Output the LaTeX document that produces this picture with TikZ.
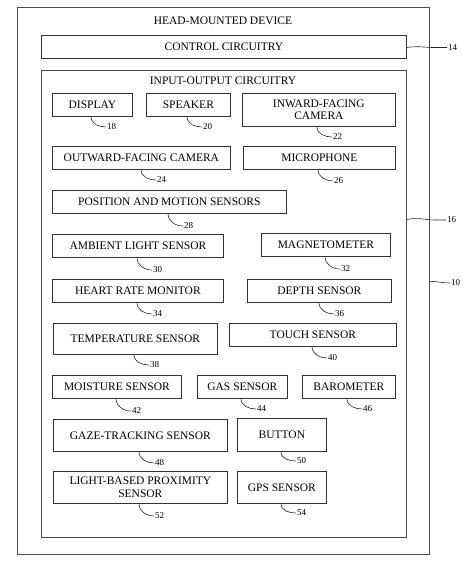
\documentclass[tikz,border=0pt]{standalone}
\usepackage{fontspec}
\setmainfont{Liberation Serif}
\tikzset{
  box/.style={draw=black!80, line width=0.75pt, inner sep=0pt, align=center,
    font=\fontsize{11.5}{12.5}\selectfont, anchor=north west},
  frame/.style={draw=black!70, line width=0.75pt, inner sep=0pt, anchor=north west},
  ttl/.style={font=\fontsize{11.5}{12.5}\selectfont, inner sep=0pt},
  num/.style={font=\fontsize{9}{9}\selectfont, inner sep=1pt, anchor=west},
  lead/.style={draw=black!85, line width=0.6pt}
}
\newcommand\mybox[6]{\node[box, minimum width={(#4-#2)*1pt}, minimum height={(#5-#3)*1pt}] (#1) at (#2,#3) {#6};}
\newcommand\myframe[5]{\node[frame, minimum width={(#4-#2)*1pt}, minimum height={(#5-#3)*1pt}] (#1) at (#2,#3) {};}
\newcommand\mylead[4]{\node[num] (l#4) at (#2,#3) {#4};
  \draw[lead] ([xshift=-15pt]l#4.west |- #1.south) to[out=-90,in=180] (l#4.west);}
\begin{document}
\begin{tikzpicture}[x=1pt,y=-1pt]
\useasboundingbox (0,0) rectangle (474,570);
\myframe{outer}{17}{7}{429}{554}
\node[ttl] (t10) at (223,21) {HEAD-MOUNTED DEVICE};
\mybox{ctrl}{41}{35}{406}{58}{CONTROL CIRCUITRY}
\myframe{io}{41}{70}{406}{537}
\node[ttl] (t16) at (223,81) {INPUT-OUTPUT CIRCUITRY};

\mybox{disp}{52}{93}{132}{116}{DISPLAY}
\mybox{spk}{146}{93}{230}{116}{SPEAKER}
\mybox{inw}{242}{93}{395}{126}{INWARD-FACING\\CAMERA}
\mybox{outw}{52}{146}{230}{169}{OUTWARD-FACING CAMERA}
\mybox{mic}{243}{146}{395}{169}{MICROPHONE}
\mybox{pos}{52}{190}{286}{213}{POSITION AND MOTION SENSORS}
\mybox{amb}{52}{234}{223}{257}{AMBIENT LIGHT SENSOR}
\mybox{mag}{261}{233}{390}{256}{MAGNETOMETER}
\mybox{hrm}{52}{279}{223}{302}{HEART RATE MONITOR}
\mybox{dep}{247}{279}{391}{302}{DEPTH SENSOR}
\mybox{tmp}{53}{323}{217}{354}{TEMPERATURE SENSOR}
\mybox{tch}{229}{323}{396}{346}{TOUCH SENSOR}
\mybox{moi}{52}{375}{181}{398}{MOISTURE SENSOR}
\mybox{gas}{197}{375}{287}{398}{GAS SENSOR}
\mybox{bar}{302}{375}{395}{398}{BAROMETER}
\mybox{gaze}{53}{419}{227}{451}{GAZE-TRACKING SENSOR}
\mybox{btn}{237}{418}{326}{451}{BUTTON}
\mybox{prox}{53}{471}{227}{503}{LIGHT-BASED PROXIMITY\\SENSOR}
\mybox{gps}{237}{471}{326}{503}{GPS SENSOR}

\mylead{disp}{106}{127}{18}
\mylead{spk}{202}{127}{20}
\mylead{inw}{332}{137}{22}
\mylead{outw}{156}{180}{24}
\mylead{mic}{333}{181}{26}
\mylead{pos}{183}{226}{28}
\mylead{amb}{152}{270}{30}
\mylead{mag}{340}{269}{32}
\mylead{hrm}{152}{314}{34}
\mylead{dep}{334}{314}{36}
\mylead{tmp}{149}{365}{38}
\mylead{tch}{327}{358}{40}
\mylead{moi}{131}{411}{42}
\mylead{gas}{256}{409}{44}
\mylead{bar}{362}{409}{46}
\mylead{gaze}{154}{463}{48}
\mylead{btn}{296}{461}{50}
\mylead{prox}{154}{516}{52}
\mylead{gps}{296}{513}{54}

\node[num] (l14) at (447,47.5) {14};
\draw[lead] ([yshift=-0.5pt]ctrl.east) .. controls +(14,-1.5) and +(-8,0) .. ([xshift=-14pt]l14.west) -- (l14.west);
\node[num] (l16) at (446,220) {16};
\draw[lead] ([yshift=84.5pt]io.east) .. controls +(14,-2) and +(-8,0) .. ([xshift=-12pt]l16.west) -- (l16.west);
\node[num] (l10) at (450,283) {10};
\draw[lead] ([yshift=-0.5pt]outer.east) to[out=0,in=180] (l10.west);
\end{tikzpicture}
\end{document}
